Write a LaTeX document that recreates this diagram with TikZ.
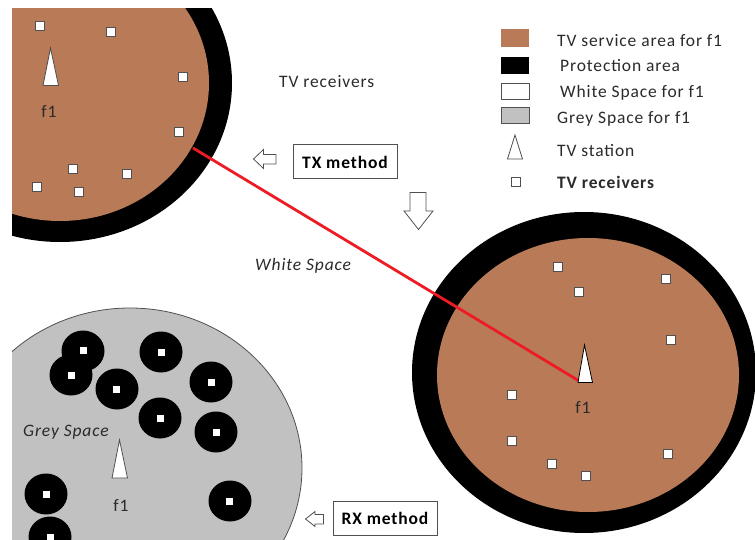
\documentclass[tikz,border=0pt]{standalone}
\usepackage{fontspec}
\setmainfont[LetterSpace=5]{Carlito}
\definecolor{brownarea}{HTML}{B97A57}
\definecolor{greyarea}{HTML}{C1C1C1}
\definecolor{edgegrey}{HTML}{505050}
\definecolor{inktext}{HTML}{2A2A2A}
\definecolor{redline}{HTML}{ED1C24}
\tikzset{
  lbl/.style={inner sep=0pt,anchor=west,text=inktext,font=\fontsize{17.5}{20}\selectfont},
  boxlbl/.style={draw=edgegrey,line width=1pt,fill=white,inner sep=0pt,text=black,font=\fontsize{17.5}{20}\selectfont\bfseries,minimum width=104pt,minimum height=34pt},
  rcv/.style={draw=edgegrey,line width=1pt,fill=white,minimum size=9pt,inner sep=0pt},
  whitesq/.style={fill=white,minimum size=7pt,inner sep=0pt},
  disc/.style={ellipse,fill=black,minimum width=43pt,minimum height=41pt,inner sep=0pt},
  hollow/.style={draw=edgegrey,line width=.8pt,fill=white,line join=miter},
  swatch/.style={minimum width=28pt,inner sep=0pt},
}
\usetikzlibrary{shapes.geometric}
\begin{document}
\begin{tikzpicture}[x=1pt,y=-1pt]
\useasboundingbox (0,0) rectangle (755,540);
% top-left coverage
\begin{scope}
\clip (12,9) rectangle (755,540);
\fill[black] (60,83) ellipse [x radius=172,y radius=159];
\fill[brownarea] (60,83) ellipse [x radius=149,y radius=138];
\end{scope}
% right coverage
\begin{scope}
\clip (0,0) rectangle (755,540);
\fill[black] (584,372.5) ellipse [x radius=172,y radius=160.5];
\fill[brownarea] (588,375) ellipse [x radius=151,y radius=137];
\end{scope}
% grey coverage
\begin{scope}
\clip (12,0) rectangle (755,540);
\filldraw[fill=greyarea,draw=edgegrey,line width=.8pt] (130,468) ellipse [x radius=172,y radius=160];
\foreach \n/\x/\y in {a/83/351,b/71/375,c/117/389,d/161/352,e/211/382,f/160/418,g/216/432,h/46/494,i/230/501,j/50/537}{
  \node[disc] (disc\n) at (\x,\y) {};
}
\foreach \n/\x/\y in {a/83/350,b/71/375,c/116/389,d/161/352,e/211/382,f/160/418,g/216/432,h/46/494,i/229/501,j/50/537}{
  \node[whitesq] (sq\n) at (\x,\y) {};
}
\end{scope}
% red link
\coordinate (linkA) at (193,148);
\coordinate (linkB) at (580,381.5);
\draw[redline,line width=2.8pt] (linkA) -- (linkB);
% receivers
\foreach \n/\x/\y in {a/40/26,b/111/32,c/183/77,d/179/132,e/73/169,f/127/174,g/37/187,h/79/192,
 i/558/267,j/579/291.5,k/665.5/279,l/671/340,m/512/394.5,n/512/440.5,o/551.5/464,p/586/476,q/667.5/453.5}{
  \node[rcv] (rcv\n) at (\x,\y) {};
}
% stations
\draw[hollow] (50.5,48) -- (43,85.5) -- (58.5,85.5) -- cycle;
\draw[hollow,draw=black] (584.5,345) -- (578,382.5) -- (592.5,382.5) -- cycle;
\draw[hollow] (119.5,440) -- (112,478) -- (127.5,478) -- cycle;
\node[lbl,anchor=center] (fa) at (49,112) {f1};
\node[lbl,anchor=center] (fb) at (583,407.5) {f1};
\node[lbl,anchor=center] (fc) at (121,505) {f1};
% free labels
\node[lbl] (tvr) at (279,81.5) {TV receivers};
\node[lbl,font=\fontsize{17.5}{20}\selectfont\itshape] (ws) at (255,266) {White Space};
\node[lbl,font=\fontsize{17.5}{20}\selectfont\itshape] (gs) at (23,432) {Grey Space};
\node[boxlbl] (tx) at (345,162) {TX method};
\node[boxlbl] (rx) at (385,518) {RX method};
% hollow arrows
\draw[hollow] (253.5,159) -- (263.5,149.5) -- (263.5,154.5) -- (276,154.5) -- (276,164) -- (263.5,164) -- (263.5,168.5) -- cycle;
\draw[hollow] (418.5,229.5) -- (404,211) -- (410,211) -- (410,192.5) -- (426,192.5) -- (426,211) -- (433,211) -- cycle;
\draw[hollow] (305.5,519) -- (315,511.5) -- (315,514.5) -- (323.5,514.5) -- (323.5,524) -- (315,524) -- (315,526.5) -- cycle;
% legend
\node[swatch,fill=brownarea,minimum height=18pt] (s1) at (515,38) {};
\node[swatch,fill=black,minimum height=17pt] (s2) at (515,65.5) {};
\node[swatch,draw=edgegrey,line width=.8pt,fill=white,minimum height=16pt] (s3) at (515,91) {};
\node[swatch,draw=edgegrey,line width=.8pt,fill=greyarea,minimum height=16pt] (s4) at (515,115) {};
\draw[hollow] (515,135) -- (507.5,159) -- (522.5,159) -- cycle;
\node[rcv] (s6) at (516,182) {};
\node[lbl] (t1) at (557,40.5) {TV service area for f1};
\node[lbl] (t2) at (560,65.5) {Protection area};
\node[lbl] (t3) at (560,93) {White Space for f1};
\node[lbl] (t4) at (557,118.5) {Grey Space for f1};
\node[lbl] (t5) at (557,150.5) {TV station};
\node[lbl,font=\fontsize{17.5}{20}\selectfont\bfseries] (t6) at (557,182.5) {TV receivers};
\end{tikzpicture}
\end{document}
